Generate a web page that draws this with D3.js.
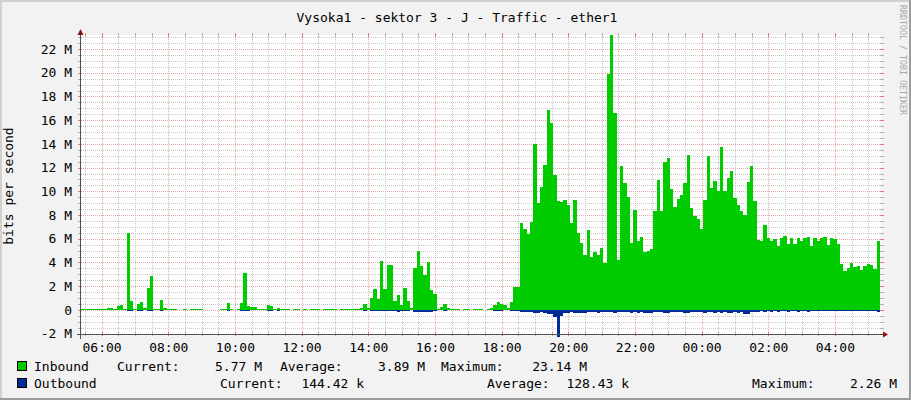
<!DOCTYPE html>
<html><head><meta charset="utf-8">
<script src="https://cdn.jsdelivr.net/npm/d3@7"></script>
<style>
html,body{margin:0;padding:0;background:#F2F2F2;}
svg{display:block;}
text{font-family:"DejaVu Sans Mono",monospace;}
</style>
</head><body><svg id="c" width="911" height="400"></svg>
<script>
const title = "Vysoka1 - sektor 3 - J - Traffic - ether1";
const yAxisTitle = "bits per second";
const watermark = "RRDTOOL / TOBI OETIKER";
const domainStart = new Date(2024, 0, 1, 5, 23);
const domainEnd = new Date(2024, 0, 2, 5, 23);
const sampleStart = new Date(2024, 0, 1, 5, 21);
const stepMinutes = 6;

// Inbound traffic, Mbit/s, one value per 6-minute sample (null = no data)
const inbound = [
0.09,0.09,0.09,0.09,0.09,0.09,0.09,0.09,0.15,0.2,
0.1,0.35,0.4,0.1,6.5,0.76,0.1,0.5,0.7,0.2,
1.85,2.87,0.1,0.1,0.85,0.2,0.09,0.09,0.09,null,
null,0.1,null,0.09,0.09,0.09,0.09,null,null,null,
null,null,0.09,0.09,0.6,0.09,null,0.1,0.55,3.1,
0.3,0.25,0.25,0.09,0.09,0.09,0.42,0.35,0.09,0.17,
0.09,0.09,0.09,null,0.09,0.09,null,0.09,null,0.09,
0.09,0.09,null,0.09,0.09,0.09,0.09,null,0.09,0.09,
0.09,0.09,0.09,0.09,0.15,0.5,0.15,0.98,1.74,0.9,
4.13,1.74,3.8,3.8,0.75,1.26,0.4,1.88,0.76,0.15,
3.57,4.97,3.7,2.95,4.0,1.69,1.35,0.09,0.28,0.5,
0.15,0.09,0.09,0.09,null,0.09,0.09,null,0.09,0.09,
0.09,null,0.09,0.15,0.42,0.67,0.48,0.42,0.14,0.7,
1.97,1.97,7.3,6.8,6.4,7.4,14.0,9.0,10.4,12.2,
16.85,15.8,11.4,9.2,9.1,9.3,8.85,7.36,9.27,6.46,
5.67,4.63,6.74,4.5,4.9,4.63,5.2,3.93,19.9,23.14,
16.6,4.2,12.1,10.7,9.55,5.67,8.4,5.84,6.12,4.9,
5.0,5.14,8.34,10.96,8.34,12.44,12.78,10.17,8.65,9.35,
9.7,10.67,13.1,8.57,7.92,7.64,6.83,9.27,13.0,10.25,
10.87,10.0,13.7,10.0,11.1,11.7,9.4,8.85,8.34,8.0,
10.8,12.1,9.18,5.9,5.8,7.16,6.1,5.8,6.0,5.42,
6.1,6.24,5.56,6.1,5.56,6.1,5.8,6.04,6.12,5.42,
6.1,5.84,6.1,6.12,5.48,6.04,6.0,5.53,3.88,3.29,
3.57,3.99,3.6,3.7,3.37,3.74,3.85,3.8,3.46,5.77
];

// Outbound traffic, Mbit/s (drawn below zero)
const outbound = [
0.02,0.02,0.02,0.02,0.02,0.02,0.02,0.02,0.02,0.02,
0.02,0.02,0.02,0.02,0.12,0.1,0.02,0.06,0.08,0.02,
0.12,0.12,0.02,0.02,0.1,0.04,0.02,0.02,0.02,null,
null,0.02,null,0.02,0.02,0.02,0.02,null,null,null,
null,null,0.02,0.02,0.05,0.02,null,0.02,0.1,0.12,
0.06,0.04,0.04,0.02,0.02,0.02,0.1,0.1,0.02,0.05,
0.02,0.02,0.02,null,0.02,0.02,null,0.02,null,0.02,
0.02,0.02,null,0.02,0.02,0.02,0.02,null,0.02,0.02,
0.02,0.02,0.02,0.02,0.02,0.08,0.03,0.1,0.1,0.08,
0.1,0.1,0.1,0.1,0.08,0.15,0.1,0.1,0.1,0.04,
0.17,0.17,0.17,0.17,0.17,0.15,0.1,0.02,0.04,0.08,
0.03,0.02,0.02,0.02,null,0.02,0.02,null,0.02,0.02,
0.02,null,0.02,0.03,0.05,0.06,0.05,0.04,0.03,0.06,
0.08,0.08,0.14,0.15,0.14,0.18,0.22,0.24,0.2,0.3,
0.36,0.34,0.56,2.26,0.5,0.3,0.22,0.2,0.22,0.26,
0.28,0.24,0.2,0.18,0.2,0.22,0.18,0.16,0.15,0.2,
0.24,0.18,0.16,0.18,0.2,0.22,0.2,0.22,0.18,0.28,
0.26,0.24,0.18,0.16,0.2,0.28,0.26,0.18,0.16,0.18,
0.2,0.26,0.28,0.18,0.16,0.18,0.2,0.22,0.16,0.2,
0.22,0.18,0.22,0.18,0.22,0.22,0.18,0.22,0.16,0.35,
0.38,0.2,0.18,0.14,0.12,0.14,0.12,0.14,0.12,0.14,
0.12,0.12,0.14,0.12,0.12,0.14,0.12,0.12,0.14,0.12,
0.12,0.12,0.12,0.12,0.1,0.1,0.12,0.12,0.08,0.08,
0.08,0.08,0.12,0.08,0.08,0.08,0.08,0.08,0.12,0.144
];

const yTickValues = [-2,0,2,4,6,8,10,12,14,16,18,20,22];
const yTickLabels = ["-2 M","0","2 M","4 M","6 M","8 M","10 M","12 M","14 M","16 M","18 M","20 M","22 M"];
const xTickLabels = ["06:00","08:00","10:00","12:00","14:00","16:00","18:00","20:00","22:00","00:00","02:00","04:00"];
const seriesNames = ["Inbound","Outbound"];
const seriesColors = ["#00CC00","#002A97"];
const inboundStats = ["Current:","5.77 M","Average:","3.89 M","Maximum:","23.14 M"];
const outboundStats = ["Current:","144.42 k","Average:","128.43 k","Maximum:","2.26 M"];

const W = 911, H = 400;
const L = 81, R = 881, T = 35, B = 334;
const svg = d3.select("#c");

// background & shade border
svg.append("rect").attr("width", W).attr("height", H).attr("fill", "#F2F2F2");
svg.append("rect").attr("x",0).attr("y",0).attr("width",W).attr("height",2).attr("fill","#D0D0D0");
svg.append("rect").attr("x",0).attr("y",0).attr("width",2).attr("height",H).attr("fill","#D0D0D0");
svg.append("rect").attr("x",0).attr("y",H-2).attr("width",W).attr("height",2).attr("fill","#9C9C9C");
svg.append("rect").attr("x",W-2).attr("y",0).attr("width",2).attr("height",H).attr("fill","#9C9C9C");

const x = d3.scaleTime().domain([domainStart, domainEnd]).range([L, R]);
const y = d3.scaleLinear().domain([-2.03e6, 23.18e6]).range([B, T]);

// canvas
svg.append("rect").attr("x", L).attr("y", T).attr("width", R - L).attr("height", B - T).attr("fill", "#FFFFFF");

const majorCol = "#EFA4A4", minorCol = "#C8C8C8";
const majorTick = "#E07A7A", minorTick = "#B0B0B0";
const grid = svg.append("g").attr("shape-rendering", "crispEdges");

// vertical grid
d3.timeMinute.every(30).range(domainStart, domainEnd).forEach(t => {
  const isMajor = t.getMinutes() === 0 && t.getHours() % 2 === 0;
  const px = Math.round(x(t)) + 0.5;
  grid.append("line").attr("x1", px).attr("x2", px).attr("y1", T).attr("y2", B)
    .attr("stroke", isMajor ? majorCol : minorCol).attr("stroke-dasharray", "1,1");
  [[T - 2, T + 2], [B - 2, B + 2]].forEach(([a, b]) =>
    grid.append("line").attr("x1", px).attr("x2", px).attr("y1", a).attr("y2", b)
      .attr("stroke", isMajor ? majorTick : minorTick));
});
// horizontal grid
d3.range(-4, 47).map(k => k * 0.5).forEach(v => {
  const py = Math.round(y(v * 1e6)) + 0.5;
  if (py < T || py > B) return;
  const isMajor = Math.abs(v % 2) < 1e-9;
  grid.append("line").attr("x1", L).attr("x2", R).attr("y1", py).attr("y2", py)
    .attr("stroke", isMajor ? majorCol : minorCol).attr("stroke-dasharray", "1,1");
  [[L - 3, L + 1], [R - 1, R + 3]].forEach(([a, b]) =>
    grid.append("line").attr("x1", a).attr("x2", b).attr("y1", py).attr("y2", py)
      .attr("stroke", isMajor ? majorTick : minorTick));
});

// data as one step bar per sample
const stepMs = stepMinutes * 60000;
const y0 = Math.round(y(0));
function bars(arr, sign, color, cls) {
  const rows = arr.map((v, i) => ({ v, i })).filter(d => d.v !== null);
  svg.append("g").attr("shape-rendering", "crispEdges").selectAll("rect." + cls).data(rows).join("rect")
    .attr("class", cls)
    .attr("x", d => Math.max(L, Math.round(x(+sampleStart + d.i * stepMs))))
    .attr("width", d => Math.min(R, Math.round(x(+sampleStart + (d.i + 1) * stepMs))) - Math.max(L, Math.round(x(+sampleStart + d.i * stepMs))))
    .attr("y", d => sign > 0 ? Math.min(y0 - 1, Math.round(y(d.v * 1e6))) : y0)
    .attr("height", d => sign > 0 ? y0 - Math.min(y0 - 1, Math.round(y(d.v * 1e6))) : Math.max(0, Math.round(y(-d.v * 1e6)) - y0))
    .attr("fill", color);
}
bars(inbound, 1, seriesColors[0], "in");
bars(outbound, -1, seriesColors[1], "out");

// axes lines
const ax = svg.append("g").attr("shape-rendering", "crispEdges");
ax.append("line").attr("x1", L - 0.5).attr("x2", L - 0.5).attr("y1", 31).attr("y2", B + 5).attr("stroke", "#505050");
ax.append("line").attr("x1", L - 4).attr("x2", R + 3).attr("y1", B + 0.5).attr("y2", B + 0.5).attr("stroke", "#505050");
svg.append("path").attr("d", `M${L - 0.5},29 L${L + 2.5},35 L${L - 3.5},35 Z`).attr("fill", "#8B1010");
svg.append("path").attr("d", `M${R + 7},${B + 0.5} L${R + 2},${B - 2.5} L${R + 2},${B + 3.5} Z`).attr("fill", "#8B1010");

// axis labels
const yAxis = d3.axisLeft(y).tickValues(yTickValues.map(v => v * 1e6))
  .tickFormat((d, i) => yTickLabels[i]).tickSize(0).tickPadding(9);
const gy = svg.append("g").attr("transform", `translate(${L},0)`).call(yAxis);
gy.select(".domain").remove();
gy.selectAll("text").attr("font-family", "DejaVu Sans Mono").attr("font-size", 13).attr("fill", "#000");

const xTickDates = xTickLabels.map(lbl => {
  const [h, m] = lbl.split(":").map(Number);
  let d = new Date(domainStart); d.setHours(h, m, 0, 0);
  if (d < domainStart) d = new Date(+d + 86400000);
  return d;
});
const xAxis = d3.axisBottom(x).tickValues(xTickDates)
  .tickFormat((d, i) => xTickLabels[i]).tickSize(0).tickPadding(9);
const gx = svg.append("g").attr("transform", `translate(0,${B})`).call(xAxis);
gx.select(".domain").remove();
gx.selectAll("text").attr("font-family", "DejaVu Sans Mono").attr("font-size", 13).attr("fill", "#000");

// titles
svg.append("text").attr("x", 457).attr("y", 22).attr("text-anchor", "middle")
  .attr("font-size", 13).attr("fill", "#000").text(title);
svg.append("text").attr("transform", "translate(13,186) rotate(-90)").attr("text-anchor", "middle")
  .attr("font-size", 13).attr("fill", "#000").text(yAxisTitle);
svg.append("text").attr("transform", "translate(900,5) rotate(90)").attr("text-anchor", "start")
  .attr("font-size", 8.3).attr("fill", "#A8A8A8").text(watermark);

// legend
const legendRows = [
  { name: seriesNames[0], color: seriesColors[0], stats: inboundStats, y: 371,
    pos: [[117, "start"], [262, "end"], [280, "start"], [425, "end"], [441, "start"], [587, "end"]] },
  { name: seriesNames[1], color: seriesColors[1], stats: outboundStats, y: 388,
    pos: [[220, "start"], [364, "end"], [487, "start"], [629, "end"], [752, "start"], [897, "end"]] }
];
legendRows.forEach(r => {
  svg.append("rect").attr("x", 17.5).attr("y", r.y - 9.5).attr("width", 9).attr("height", 9)
    .attr("fill", r.color).attr("stroke", "#000").attr("stroke-width", 1);
  svg.append("text").attr("x", 34).attr("y", r.y).attr("font-size", 13).attr("fill", "#000").text(r.name);
  r.stats.forEach((s, i) => {
    svg.append("text").attr("x", r.pos[i][0]).attr("y", r.y).attr("text-anchor", r.pos[i][1])
      .attr("font-size", 13).attr("fill", "#000").text(s);
  });
});
</script>
</body></html>
